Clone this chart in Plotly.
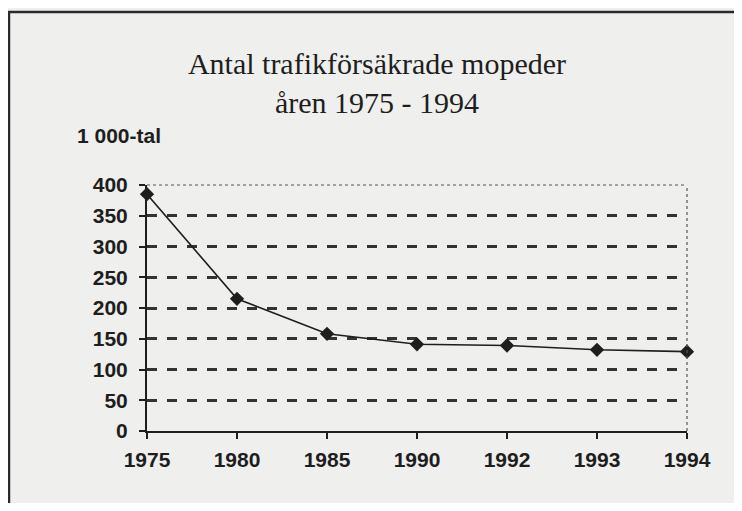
import plotly.graph_objects as go

years = ["1975", "1980", "1985", "1990", "1992", "1993", "1994"]
mopeds_thousands = [385, 215, 158, 141, 139, 132, 129]
y_ticks = [0, 50, 100, 150, 200, 250, 300, 350, 400]

bg = "#efefed"
ink = "#1e1e1e"
tick_font = dict(size=21, family="Liberation Sans", color=ink, weight="bold")

fig = go.Figure()
fig.add_trace(go.Scatter(
    x=years, y=mopeds_thousands, mode="lines+markers",
    line=dict(color=ink, width=1.6),
    marker=dict(symbol="diamond", size=11, color=ink),
    cliponaxis=False, showlegend=False,
))

fig.update_layout(
    width=734, height=495,
    paper_bgcolor=bg, plot_bgcolor=bg,
    margin=dict(l=139, r=55, t=177, b=72),
    title=dict(
        text="Antal trafikförsäkrade mopeder<br>åren 1975 - 1994",
        x=0.5027, xanchor="center", xref="container",
        y=0.867, yanchor="middle", yref="container",
        font=dict(family="Liberation Serif", size=30, color=ink),
    ),
    font=dict(family="Liberation Sans", color=ink),
    annotations=[dict(
        text="<b>1 000-tal</b>", xref="paper", yref="paper",
        x=-0.1333, y=1.203, xanchor="left", yanchor="middle",
        showarrow=False, font=dict(size=21, family="Liberation Sans", color=ink),
    )],
    shapes=[
        dict(type="line", xref="paper", yref="paper", x0=0, x1=1, y0=1, y1=1,
             line=dict(color="#555", width=1.2, dash="dot")),
        dict(type="line", xref="paper", yref="paper", x0=1, x1=1, y0=0, y1=1,
             line=dict(color="#555", width=1.2, dash="dot")),
        dict(type="rect", xref="paper", yref="paper", x0=-0.2556, x1=1.12, y0=-0.6, y1=1.703,
             line=dict(color="#2a2a2a", width=2.5)),
    ],
)

fig.update_xaxes(
    type="category", range=[0, 6],
    showline=True, linecolor=ink, linewidth=2,
    ticks="outside", ticklen=6, tickwidth=2, tickcolor=ink,
    showgrid=False, zeroline=False,
    tickfont=tick_font,
    ticklabelstandoff=3,
)
fig.update_yaxes(
    range=[0, 400], tickvals=y_ticks, ticktext=[str(v) for v in y_ticks],
    showline=True, linecolor=ink, linewidth=2,
    ticks="outside", ticklen=6, tickwidth=2, tickcolor=ink,
    showgrid=True, gridcolor="#333", gridwidth=2.5, griddash="10px,10px",
    zeroline=False,
    tickfont=tick_font,
    ticklabelstandoff=7,
)

fig.write_html("out.html")
